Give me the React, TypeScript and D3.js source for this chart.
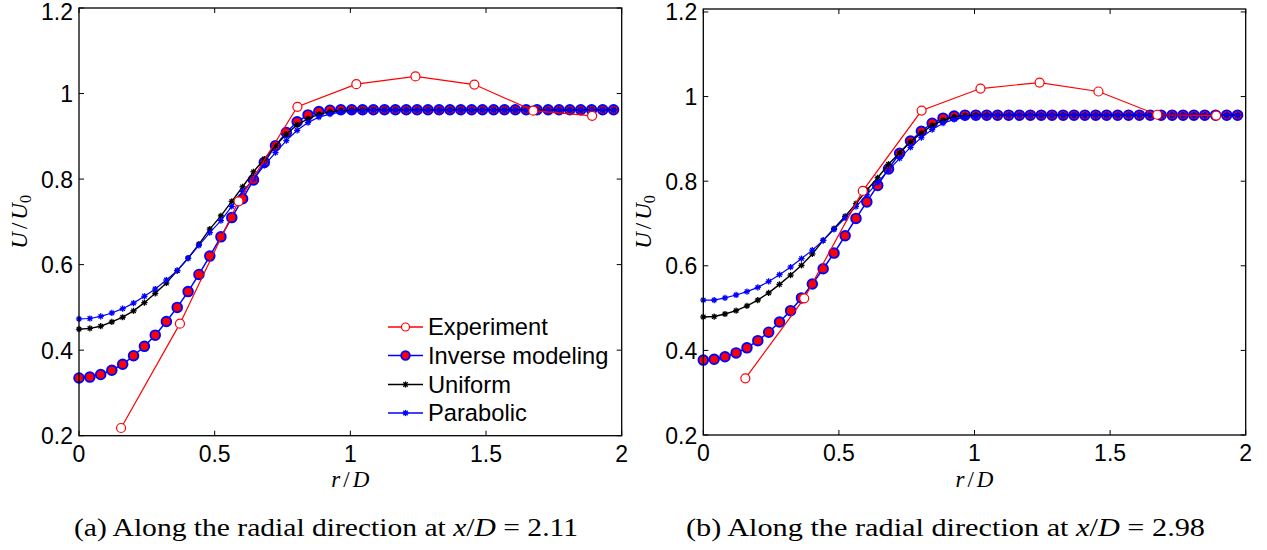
import React from 'react';
import * as d3 from 'd3';

// radial grid of the model curves (r/D)
const R_GRID = [
  0, 0.040, 0.080, 0.121, 0.161, 0.201, 0.241, 0.281, 0.322, 0.362,
  0.402, 0.442, 0.482, 0.523, 0.563, 0.603, 0.643, 0.683, 0.724, 0.764,
  0.804, 0.844, 0.884, 0.925, 0.965, 1.005, 1.045, 1.085, 1.126, 1.166,
  1.206, 1.246, 1.286, 1.327, 1.367, 1.407, 1.447, 1.487, 1.528, 1.568,
  1.608, 1.648, 1.688, 1.729, 1.769, 1.809, 1.849, 1.889, 1.930, 1.970,
];
// experiment positions (r/D)
const R_EXP = [0.155, 0.372, 0.588, 0.805, 1.022, 1.24, 1.457, 1.674, 1.891];

// (a) x/D = 2.11
const EXP_A = [0.218, 0.462, 0.748, 0.969, 1.022, 1.040, 1.021, 0.960, 0.948];
const INV_A = [
  0.335, 0.337, 0.343, 0.353, 0.367, 0.387, 0.409, 0.435, 0.467, 0.500,
  0.537, 0.577, 0.620, 0.665, 0.710, 0.754, 0.798, 0.839, 0.878, 0.909,
  0.934, 0.950, 0.958, 0.961, 0.962, 0.962, 0.962, 0.962, 0.962, 0.962,
  0.962, 0.962, 0.962, 0.962, 0.962, 0.962, 0.962, 0.962, 0.962, 0.962,
  0.962, 0.962, 0.962, 0.962, 0.962, 0.962, 0.962, 0.962, 0.962, 0.962,
];
const UNI_A = [
  0.449, 0.451, 0.456, 0.466, 0.477, 0.492, 0.511, 0.533, 0.557, 0.586,
  0.615, 0.648, 0.683, 0.714, 0.748, 0.782, 0.817, 0.847, 0.878, 0.905,
  0.927, 0.941, 0.952, 0.957, 0.960, 0.961, 0.962, 0.962, 0.962, 0.962,
  0.962, 0.962, 0.962, 0.962, 0.962, 0.962, 0.962, 0.962, 0.962, 0.962,
  0.962, 0.962, 0.962, 0.962, 0.962, 0.962, 0.962, 0.962, 0.962, 0.962,
];
const PAR_A = [
  0.473, 0.474, 0.479, 0.487, 0.497, 0.510, 0.526, 0.543, 0.564, 0.586,
  0.615, 0.645, 0.675, 0.703, 0.736, 0.771, 0.800, 0.832, 0.862, 0.890,
  0.914, 0.932, 0.945, 0.952, 0.957, 0.959, 0.960, 0.961, 0.961, 0.961,
  0.961, 0.961, 0.961, 0.961, 0.961, 0.961, 0.961, 0.961, 0.961, 0.961,
  0.961, 0.961, 0.961, 0.961, 0.961, 0.961, 0.961, 0.961, 0.961, 0.961,
];

// (b) x/D = 2.98
const EXP_B = [0.334, 0.523, 0.777, 0.967, 1.019, 1.033, 1.012, 0.957, 0.955];
const INV_B = [
  0.377, 0.379, 0.385, 0.394, 0.406, 0.423, 0.443, 0.467, 0.494, 0.524,
  0.557, 0.593, 0.630, 0.671, 0.712, 0.751, 0.790, 0.829, 0.866, 0.895,
  0.918, 0.937, 0.949, 0.954, 0.956, 0.956, 0.956, 0.956, 0.956, 0.956,
  0.956, 0.956, 0.956, 0.956, 0.956, 0.956, 0.956, 0.956, 0.956, 0.956,
  0.956, 0.956, 0.956, 0.956, 0.956, 0.956, 0.956, 0.956, 0.956, 0.956,
];
const UNI_B = [
  0.479, 0.480, 0.486, 0.494, 0.505, 0.519, 0.536, 0.556, 0.578, 0.601,
  0.628, 0.660, 0.688, 0.717, 0.747, 0.779, 0.808, 0.840, 0.867, 0.893,
  0.914, 0.932, 0.944, 0.952, 0.955, 0.956, 0.956, 0.956, 0.956, 0.956,
  0.956, 0.956, 0.956, 0.956, 0.956, 0.956, 0.956, 0.956, 0.956, 0.956,
  0.956, 0.956, 0.956, 0.956, 0.956, 0.956, 0.956, 0.956, 0.956, 0.956,
];
const PAR_B = [
  0.519, 0.519, 0.524, 0.531, 0.539, 0.549, 0.563, 0.579, 0.597, 0.617,
  0.637, 0.660, 0.686, 0.713, 0.740, 0.768, 0.797, 0.826, 0.854, 0.880,
  0.903, 0.922, 0.937, 0.946, 0.951, 0.954, 0.955, 0.956, 0.956, 0.956,
  0.956, 0.956, 0.956, 0.956, 0.956, 0.956, 0.956, 0.956, 0.956, 0.956,
  0.956, 0.956, 0.956, 0.956, 0.956, 0.956, 0.956, 0.956, 0.956, 0.956,
];

const X_TICKS = [0, 0.5, 1, 1.5, 2];
const Y_TICKS = [0.2, 0.4, 0.6, 0.8, 1.0, 1.2];
const X_TICK_LABELS = ['0', '0.5', '1', '1.5', '2'];
const Y_TICK_LABELS = ['0.2', '0.4', '0.6', '0.8', '1', '1.2'];
const LEGEND = ['Experiment', 'Inverse modeling', 'Uniform', 'Parabolic'];

const RED = '#ff0000';
const BLUE = '#0000ff';
const SANS = '"Liberation Sans", Arial, Helvetica, sans-serif';
const SERIF = '"Liberation Serif", "Times New Roman", serif';

function Star({ x, y, color }: { x: number; y: number; color: string }) {
  const s = 3.1;
  const d = s * 0.7071;
  return (
    <g stroke={color} strokeWidth={1.3}>
      <line x1={x - s} y1={y} x2={x + s} y2={y} />
      <line x1={x} y1={y - s} x2={x} y2={y + s} />
      <line x1={x - d} y1={y - d} x2={x + d} y2={y + d} />
      <line x1={x - d} y1={y + d} x2={x + d} y2={y - d} />
      <circle cx={x} cy={y} r={1.7} fill={color} stroke="none" />
    </g>
  );
}

type PanelProps = {
  x0: number; x1: number; yTop: number; yBottom: number; yMax: number;
  exp: number[]; inv: number[]; uni: number[]; par: number[];
  legend?: boolean; caption: string; value: string; captionStart: number; captionWidth: number;
};

function Panel(p: PanelProps) {
  const x = d3.scaleLinear().domain([0, 2]).range([p.x0, p.x1]);
  const y = d3.scaleLinear().domain([0.2, p.yMax]).range([p.yBottom, p.yTop]);
  const line = d3.line<[number, number]>().x(d => x(d[0])).y(d => y(d[1]));
  const pts = (rs: number[], vs: number[]) =>
    rs.map((r, i) => [r, vs[i]] as [number, number]).filter(d => Number.isFinite(d[1]));
  const inv = pts(R_GRID, p.inv);
  const uni = pts(R_GRID, p.uni);
  const par = pts(R_GRID, p.par);
  const exp = pts(R_EXP, p.exp);
  const tl = 5;
  const xMid = (p.x0 + p.x1) / 2;
  const yMid = (p.yTop + p.yBottom) / 2;

  const legendY = [335, 363.5, 392.5, 421];
  const lx0 = p.x0 + 309, lx1 = p.x0 + 344, lxm = (lx0 + lx1) / 2, ltx = p.x0 + 349;

  return (
    <g>
      {/* series */}
      <path d={line(inv) || ''} fill="none" stroke={BLUE} strokeWidth={1.5} />
      {inv.map((d, i) => (
        <circle key={'i' + i} cx={x(d[0])} cy={y(d[1])} r={4.8} fill={RED} stroke={BLUE} strokeWidth={1.9} />
      ))}
      <path d={line(uni) || ''} fill="none" stroke="#000" strokeWidth={1.4} />
      {uni.map((d, i) => <Star key={'u' + i} x={x(d[0])} y={y(d[1])} color="#000" />)}
      <path d={line(par) || ''} fill="none" stroke={BLUE} strokeWidth={1.2} />
      {par.map((d, i) => <Star key={'p' + i} x={x(d[0])} y={y(d[1])} color={BLUE} />)}
      <path d={line(exp) || ''} fill="none" stroke={RED} strokeWidth={1.2} />
      {exp.map((d, i) => (
        <circle key={'e' + i} cx={x(d[0])} cy={y(d[1])} r={4.5} fill="#fff" stroke={RED} strokeWidth={1.2} />
      ))}

      {/* box */}
      <rect x={p.x0} y={p.yTop} width={p.x1 - p.x0} height={p.yBottom - p.yTop} fill="none" stroke="#000" strokeWidth={1.3} />
      {X_TICKS.map((t, i) => (
        <g key={'xt' + i}>
          <line x1={x(t)} x2={x(t)} y1={p.yBottom} y2={p.yBottom - tl} stroke="#000" strokeWidth={1} />
          <line x1={x(t)} x2={x(t)} y1={p.yTop} y2={p.yTop + tl} stroke="#000" strokeWidth={1} />
          <text x={x(t)} y={p.yBottom + 26} textAnchor="middle" fontFamily={SANS} fontSize={23} fill="#000">{X_TICK_LABELS[i]}</text>
        </g>
      ))}
      {Y_TICKS.map((t, i) => (
        <g key={'yt' + i}>
          <line x1={p.x0} x2={p.x0 + tl} y1={y(t)} y2={y(t)} stroke="#000" strokeWidth={1} />
          <line x1={p.x1} x2={p.x1 - tl} y1={y(t)} y2={y(t)} stroke="#000" strokeWidth={1} />
          <text x={p.x0 - 6} y={Math.max(y(t) + 8.5, 19.5)} textAnchor="end" fontFamily={SANS} fontSize={23} fill="#000">{Y_TICK_LABELS[i]}</text>
        </g>
      ))}

      {/* axis labels */}
      <text x={xMid} y={487} textAnchor="middle" fontFamily={SERIF} fontSize={23} fontStyle="italic" fill="#000">
        r<tspan fontStyle="normal" dx={3}>/</tspan><tspan dx={3}>D</tspan>
      </text>
      <text transform={`translate(${p.x0 - 52},${yMid}) rotate(-90)`} textAnchor="middle" fontFamily={SERIF} fontSize={23} fontStyle="italic" fill="#000">
        U<tspan fontStyle="normal" dx={3}>/</tspan><tspan dx={3}>U</tspan><tspan fontStyle="normal" fontSize={16} dy={4}>0</tspan>
      </text>

      {/* caption */}
      <text x={p.captionStart} y={536} fontFamily={SERIF} fontSize={25} fill="#000" textLength={p.captionWidth} lengthAdjust="spacingAndGlyphs">
        {p.caption}<tspan fontStyle="italic">x</tspan>/<tspan fontStyle="italic">D</tspan>{p.value}
      </text>

      {/* legend */}
      {p.legend && (
        <g>
          {LEGEND.map((name, i) => {
            const cy = legendY[i] - 8;
            const col = i === 0 ? RED : i === 2 ? '#000' : BLUE;
            return (
              <g key={'lg' + i}>
                <line x1={lx0} x2={lx1} y1={cy} y2={cy} stroke={col} strokeWidth={1.3} />
                {i === 0 && <circle cx={lxm} cy={cy} r={4} fill="#fff" stroke={RED} strokeWidth={1.2} />}
                {i === 1 && <circle cx={lxm} cy={cy} r={4.3} fill={RED} stroke={BLUE} strokeWidth={1.8} />}
                {i >= 2 && <Star x={lxm} y={cy} color={col} />}
                <text x={ltx} y={legendY[i]} fontFamily={SANS} fontSize={23.7} fill="#000">{name}</text>
              </g>
            );
          })}
        </g>
      )}
    </g>
  );
}

export default function App() {
  return (
    <svg width={1267} height={550} style={{ position: 'absolute', left: 0, top: 0, background: '#fff' }}>
      <rect x={0} y={0} width={1267} height={550} fill="#fff" />
      <Panel x0={79} x1={621.7} yTop={8} yBottom={435.7} yMax={1.2}
        exp={EXP_A} inv={INV_A} uni={UNI_A} par={PAR_A} legend
        caption="(a) Along the radial direction at " value=" = 2.11" captionStart={74} captionWidth={504} />
      <Panel x0={703.3} x1={1245.7} yTop={9} yBottom={435} yMax={1.207}
        exp={EXP_B} inv={INV_B} uni={UNI_B} par={PAR_B}
        caption="(b) Along the radial direction at " value=" = 2.98" captionStart={686} captionWidth={519} />
    </svg>
  );
}
